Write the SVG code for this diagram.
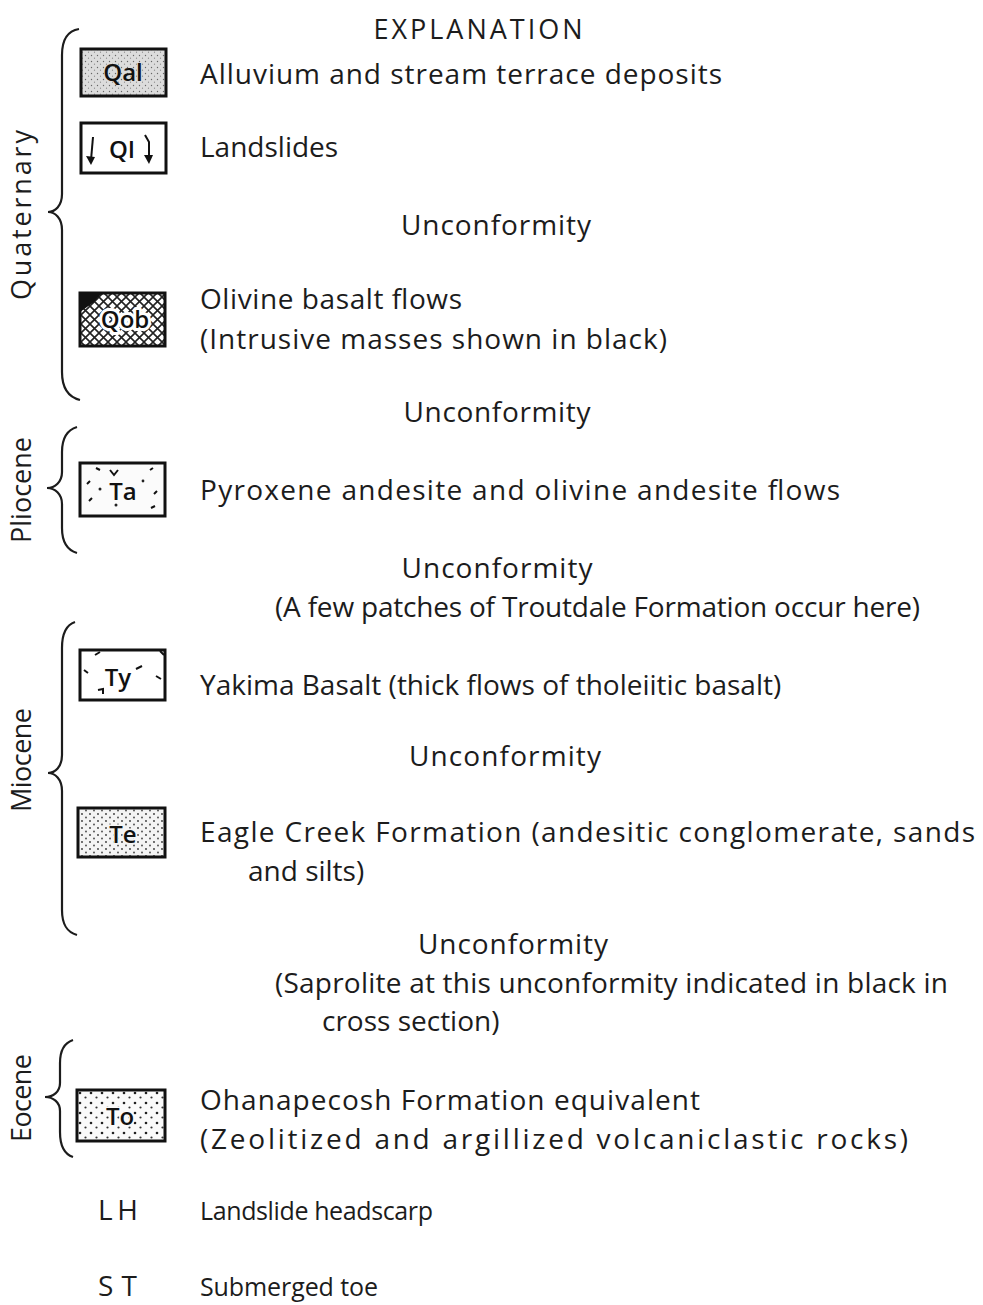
<svg xmlns="http://www.w3.org/2000/svg" width="983" height="1305" viewBox="0 0 983 1305">
<defs>
<style>
.t{font-family:"Open Sans","DejaVu Sans",sans-serif;font-size:28px;fill:#1c1c1c}
.s{font-size:25px}
.v{font-family:"Open Sans","DejaVu Sans",sans-serif;font-size:27px;fill:#1c1c1c}
.b{font-family:"Open Sans","DejaVu Sans",sans-serif;font-size:24px;fill:#111;text-anchor:middle;font-weight:600}
.box{stroke:#111;stroke-width:3}
.brace{fill:none;stroke:#1c1c1c;stroke-width:2.2}
.mk{fill:none;stroke:#111;stroke-width:2}
</style>
<pattern id="pQal" width="6" height="6" patternUnits="userSpaceOnUse">
<rect width="6" height="6" fill="#dcdcdc"/>
<circle cx="1.5" cy="1.5" r="0.7" fill="#666"/>
<circle cx="4.5" cy="4.2" r="0.6" fill="#888"/>
</pattern>
<pattern id="pQob" width="9" height="9" patternUnits="userSpaceOnUse">
<rect width="9" height="9" fill="#fff"/>
<path d="M0 0L9 9M9 0L0 9" stroke="#222" stroke-width="1.6"/>
</pattern>
<pattern id="pTe" width="8" height="7" patternUnits="userSpaceOnUse">
<rect width="8" height="7" fill="#f4f4f4"/>
<circle cx="2" cy="2" r="0.9" fill="#333"/>
<circle cx="6" cy="5.5" r="0.9" fill="#444"/>
</pattern>
<pattern id="pTo" width="11" height="10" patternUnits="userSpaceOnUse">
<rect width="11" height="10" fill="#fafafa"/>
<circle cx="3" cy="3" r="1.3" fill="#222"/>
<circle cx="8.5" cy="7.5" r="1.1" fill="#333"/>
</pattern>
</defs>
<rect width="983" height="1305" fill="#fff"/>

<g id="braces">
<path class="brace" d="M79 29 C67 31 62 40 62 55 L62 194 C62 206 55 212 48 212 C55 212 62 218 62 230 L62 372 C62 388 68 397 80 400"/>
<path class="brace" d="M77 427 C67 430 62 438 62 452 L62 472 C62 482 55 488 47 488 C55 488 62 494 62 504 L62 528 C62 542 67 550 77 553"/>
<path class="brace" d="M75 622 C66 625 62 633 62 648 L62 755 C62 767 55 773 48 773 C55 773 62 779 62 791 L62 910 C62 925 67 932 77 935"/>
<path class="brace" d="M73 1040 C64 1043 60 1050 60 1063 L60 1083 C60 1092 53 1097 45 1097 C53 1097 60 1102 60 1111 L60 1132 C60 1146 64 1154 73 1157"/>
</g>

<g id="epochs">
<text class="v" transform="translate(31 215) rotate(-90)" text-anchor="middle" textLength="170">Quaternary</text>
<text class="v" transform="translate(31 490) rotate(-90)" text-anchor="middle" textLength="106">Pliocene</text>
<text class="v" transform="translate(31 760) rotate(-90)" text-anchor="middle" textLength="104">Miocene</text>
<text class="v" transform="translate(31 1098) rotate(-90)" text-anchor="middle" textLength="88">Eocene</text>
</g>

<text class="t" x="478" y="39" text-anchor="middle" textLength="209" style="font-size:27px">EXPLANATION</text>

<g id="Qal">
<rect class="box" x="81" y="49" width="85" height="47" fill="url(#pQal)"/>
<text class="b" x="123" y="81">Qal</text>
<text class="t" x="200" y="84" textLength="522">Alluvium and stream terrace deposits</text>
</g>

<g id="Ql">
<rect class="box" x="81" y="123" width="85" height="50" fill="#fff"/>
<text class="b" x="122" y="158">QI</text>
<path class="mk" d="M93 137 L91 160"/><path d="M86 156 L91 165 L95 157 Z" fill="#111"/>
<path class="mk" d="M145 135 L149 142 L149 158"/><path d="M144 155 L149 164 L153 155 Z" fill="#111"/>
<text class="t" x="200" y="157">Landslides</text>
</g>

<text class="t" x="496" y="235" text-anchor="middle" textLength="190">Unconformity</text>

<g id="Qob">
<rect class="box" x="80" y="293" width="85" height="53" fill="url(#pQob)"/>
<path d="M80 293 L102 293 L94 302 L80 312 Z" fill="#111"/>
<text class="b" x="125" y="328" stroke="#fff" stroke-width="6" stroke-linejoin="round" paint-order="stroke">Qob</text>
<text class="t" x="200" y="309" textLength="262">Olivine basalt flows</text>
<text class="t" x="200" y="349" textLength="467">(Intrusive masses shown in black)</text>
</g>

<text class="t" x="497" y="422" text-anchor="middle" textLength="187">Unconformity</text>

<g id="Ta">
<rect class="box" x="80" y="463" width="85" height="53" fill="#fbfbfb"/>
<text class="b" x="123" y="500">Ta</text>
<path class="mk" d="M110 470 L114 475 L118 470"/>
<circle cx="100" cy="489" r="1.5" fill="#222"/><circle cx="116" cy="505" r="1.5" fill="#222"/><circle cx="143" cy="481" r="1.4" fill="#222"/>
<path class="mk" d="M87 484 L90 481 M89 501 L92 498 M150 470 L153 468 M154 494 L157 491 M151 508 L155 506 M96 468 L100 470"/>
<text class="t" x="200" y="500" textLength="640">Pyroxene andesite and olivine andesite flows</text>
</g>

<text class="t" x="497" y="578" text-anchor="middle" textLength="191">Unconformity</text>
<text class="t" x="275" y="617" textLength="645">(A few patches of Troutdale Formation occur here)</text>

<g id="Ty">
<rect class="box" x="80" y="650" width="85" height="50" fill="#fff"/>
<text class="b" x="118" y="686">Ty</text>
<path class="mk" d="M95 655 L100 652 M84 670 L88 673 M98 690 L103 689 L103 694 M136 669 L142 666 M156 676 L161 679 M160 651 L164 655"/>
<text class="t" x="200" y="695">Yakima Basalt (thick flows of tholeiitic basalt)</text>
</g>

<text class="t" x="505" y="766" text-anchor="middle" textLength="192">Unconformity</text>

<g id="Te">
<rect class="box" x="78" y="808" width="87" height="49" fill="url(#pTe)"/>
<text class="b" x="123" y="843" stroke="#f4f4f4" stroke-width="3" paint-order="stroke">Te</text>
<text class="t" x="200" y="842" textLength="775">Eagle Creek Formation (andesitic conglomerate, sands</text>
<text class="t" x="248" y="881">and silts)</text>
</g>

<text class="t" x="513" y="954" text-anchor="middle" textLength="190">Unconformity</text>
<text class="t" x="275" y="993" textLength="673">(Saprolite at this unconformity indicated in black in</text>
<text class="t" x="322" y="1031">cross section)</text>

<g id="To">
<rect class="box" x="77" y="1090" width="88" height="51" fill="url(#pTo)"/>
<text class="b" x="120" y="1125" stroke="#fafafa" stroke-width="3" paint-order="stroke">To</text>
<text class="t" x="200" y="1110" textLength="500">Ohanapecosh Formation equivalent</text>
<text class="t" x="200" y="1149" textLength="708">(Zeolitized and argillized volcaniclastic rocks)</text>
</g>

<g id="LH">
<text class="t" x="98" y="1220" textLength="40">LH</text>
<text class="t s" x="200" y="1220" textLength="233">Landslide headscarp</text>
</g>

<g id="ST">
<text class="t" x="98" y="1296" textLength="39">ST</text>
<text class="t s" x="200" y="1296" textLength="178">Submerged toe</text>
</g>
</svg>
